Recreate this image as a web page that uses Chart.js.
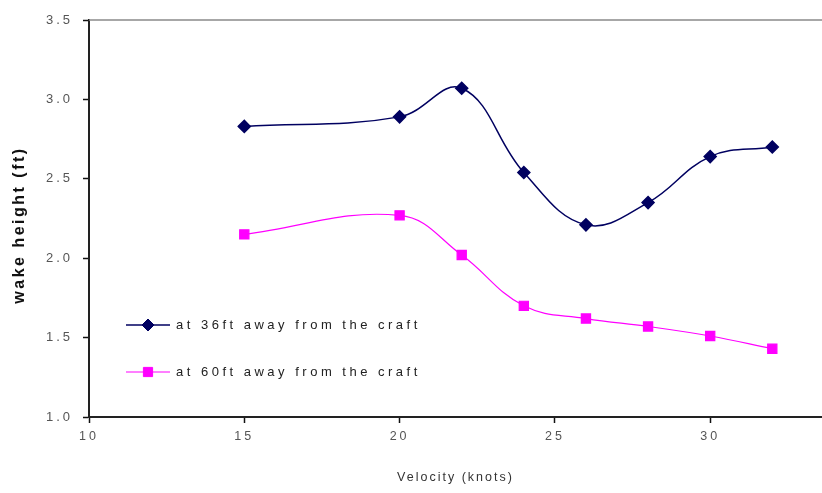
<!DOCTYPE html>
<html>
<head>
<meta charset="utf-8">
<script src="https://cdn.jsdelivr.net/npm/chart.js@4.4.0/dist/chart.umd.min.js"></script>
<style>
    html, body { margin: 0; padding: 0; background: #fff; overflow: hidden; }
    #wake-chart { display: block; }
</style>
</head>
<body>
<canvas id="wake-chart" width="822" height="493"></canvas>
<script>
    // Data
    var velocity = [15, 20, 22, 24, 26, 28, 30, 32];
    var wake36 = [2.83, 2.89, 3.07, 2.54, 2.21, 2.35, 2.64, 2.70];
    var wake60 = [2.15, 2.27, 2.02, 1.70, 1.62, 1.57, 1.51, 1.43];
    var seriesLabels = ["at 36ft away from the craft", "at 60ft away from the craft"];
    var xTitle = "Velocity (knots)";
    var yTitle = "wake height (ft)";
    var xTicks = [10, 15, 20, 25, 30];
    var yTicks = [1.0, 1.5, 2.0, 2.5, 3.0, 3.5];

    var FONT = "'Liberation Sans', Arial, sans-serif";

    function toPoints(xs, ys) {
        return xs.map(function (x, i) { return {x: x, y: ys[i]}; });
    }

    function noPadding() {
        return {left: 0, top: 0, right: 0, bottom: 0};
    }

    // Letter spacing for tick text, top border line, axis titles
    var framePlugin = {
        id: "frame",
        beforeDraw: function (chart) {
            chart.ctx.letterSpacing = "3px";
        },
        afterDraw: function (chart) {
            var ctx = chart.ctx, a = chart.chartArea;
            ctx.save();
            ctx.strokeStyle = "#8a8a8a";
            ctx.lineWidth = 1.5;
            ctx.beginPath();
            ctx.moveTo(a.left, a.top);
            ctx.lineTo(a.right, a.top);
            ctx.stroke();

            // x title
            ctx.letterSpacing = "2px";
            ctx.fillStyle = "#333";
            ctx.font = "12.5px " + FONT;
            ctx.textAlign = "center";
            ctx.textBaseline = "middle";
            ctx.fillText(xTitle, (a.left + a.right) / 2, 478);

            // y title
            ctx.letterSpacing = "2.5px";
            ctx.fillStyle = "#111";
            ctx.font = "bold 16px " + FONT;
            ctx.translate(20, 225);
            ctx.rotate(-Math.PI / 2);
            ctx.fillText(yTitle, 0, 0);
            ctx.restore();
        }
    };

    // Legend drawn inside the plot, lower left
    var innerLegend = {
        id: "innerLegend",
        afterDatasetsDraw: function (chart) {
            var ctx = chart.ctx;
            var rows = [325, 372];
            ctx.save();
            chart.data.datasets.forEach(function (ds, i) {
                var y = rows[i];
                ctx.strokeStyle = ds.borderColor;
                ctx.lineWidth = ds.borderWidth;
                ctx.beginPath();
                ctx.moveTo(126, y);
                ctx.lineTo(170, y);
                ctx.stroke();
                ctx.fillStyle = ds.pointBackgroundColor;
                ctx.strokeStyle = ds.pointBorderColor;
                ctx.lineWidth = 1;
                ctx.beginPath();
                Chart.helpers.drawPoint(ctx, {pointStyle: ds.pointStyle, rotation: 0, borderWidth: 1, radius: ds.pointRadius}, 148, y);
                ctx.letterSpacing = "3.5px";
                ctx.fillStyle = "#222";
                ctx.font = "13px " + FONT;
                ctx.textBaseline = "middle";
                ctx.textAlign = "left";
                ctx.fillText(ds.label, 176, y);
            });
            ctx.restore();
        }
    };

    var ctx = document.getElementById("wake-chart").getContext("2d");
    var wakeChart = new Chart(ctx, {
        type: "line",
        data: {
            datasets: [{
                    label: seriesLabels[0],
                    data: toPoints(velocity, wake36),
                    borderColor: "#000060",
                    borderWidth: 1.5,
                    pointStyle: "rectRot",
                    pointRadius: 6,
                    pointBackgroundColor: "#000060",
                    pointBorderColor: "#000060",
                    tension: 0.4
                },
                {
                    label: seriesLabels[1],
                    data: toPoints(velocity, wake60),
                    borderColor: "#ff00ff",
                    borderWidth: 1.2,
                    pointStyle: "rect",
                    pointRadius: 6.5,
                    pointBackgroundColor: "#ff00ff",
                    pointBorderColor: "#ff00ff",
                    tension: 0.4
                }
            ]
        },
        options: {
            responsive: false,
            animation: false,
            layout: {autoPadding: false, padding: {top: 20, right: 0, bottom: 0, left: 0}},
            plugins: {legend: {display: false}, tooltip: {enabled: false}},
            scales: {
                x: {
                    type: "linear",
                    min: 10,
                    max: 33.6,
                    afterBuildTicks: function (s) {
                        s.ticks = xTicks.map(function (v) { return {value: v}; });
                    },
                    afterFit: function (s) {
                        s.height = 76;
                        s.getPadding = noPadding;
                    },
                    grid: {display: true, drawOnChartArea: false, drawTicks: true, tickLength: 6, tickColor: "#111", tickWidth: 1.5},
                    border: {display: true, color: "#222", width: 2},
                    ticks: {
                        color: "#555",
                        padding: 6,
                        font: {family: FONT, size: 12.5},
                        callback: function (v) { return v; }
                    }
                },
                y: {
                    min: 1.0,
                    max: 3.5,
                    afterBuildTicks: function (s) {
                        s.ticks = yTicks.map(function (v) { return {value: v}; });
                    },
                    afterFit: function (s) {
                        s.width = 89;
                        s.getPadding = noPadding;
                    },
                    grid: {display: true, drawOnChartArea: false, drawTicks: true, tickLength: 6, tickColor: "#111", tickWidth: 1.5},
                    border: {display: true, color: "#222", width: 2},
                    ticks: {
                        color: "#555",
                        padding: 10,
                        font: {family: FONT, size: 13},
                        callback: function (v) { return v.toFixed(1); }
                    }
                }
            }
        },
        plugins: [framePlugin, innerLegend]
    });
</script>
</body>
</html>
